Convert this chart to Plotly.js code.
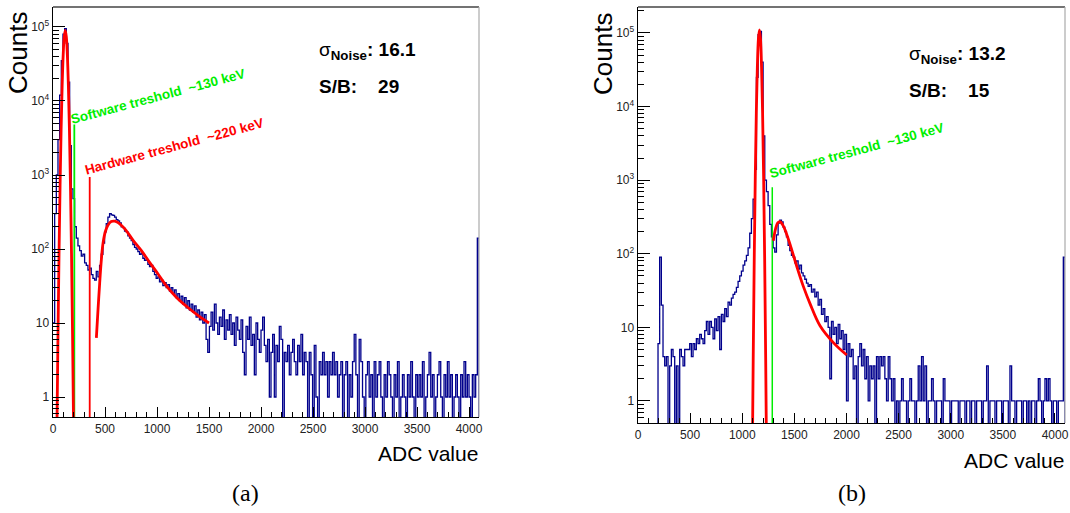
<!DOCTYPE html>
<html><head><meta charset="utf-8">
<script src="https://cdn.plot.ly/plotly-3.0.1.min.js"></script>
<style>html,body{margin:0;padding:0;background:#fff}#chart{width:1070px;height:513px}</style>
</head><body><div id="chart"></div>
<script>
// ---------------- DATA ----------------
const BIN_WIDTH = 16; // ADC channels per bin, 256 bins from 0 to 4096

// (a) histogram counts per bin
const countsA = [
  10, 300, 1000, 3000, 12000, 35000, 80000, 95000, 60000, 18000,
  2500, 650, 480, 200, 140, 110, 95, 80, 85, 65,
  60, 52, 55, 45, 40, 38, 50, 42, 60, 85,
  120, 170, 220, 270, 300, 290, 285, 270, 250, 240,
  225, 200, 195, 175, 170, 150, 140, 130, 115, 105,
  100, 92, 85, 88, 75, 70, 72, 62, 58, 60,
  50, 45, 40, 42, 36, 38, 32, 35, 30, 33,
  27, 30, 25, 28, 22, 25, 20, 23, 18, 22,
  16, 20, 15, 18, 14, 17, 12, 15, 11, 14,
  10, 13, 6, 4, 9, 14, 8, 18, 10, 7,
  12, 9, 15, 6, 11, 8, 13, 7, 10, 5,
  12, 8, 6, 11, 4, 2, 9, 6, 12, 5,
  7, 2, 10, 6, 4, 8, 12, 5, 3, 6,
  1, 4, 7, 1, 5, 3, 9, 6, 0, 4,
  3, 5, 2, 4, 6, 3, 2, 5, 3, 7,
  2, 4, 3, 0, 4, 2, 0, 5, 1, 0,
  3, 2, 4, 2, 3, 1, 3, 2, 4, 2,
  3, 1, 2, 3, 0, 2, 3, 0, 2, 1,
  3, 7, 2, 0, 6, 3, 1, 0, 2, 3,
  1, 2, 0, 3, 1, 2, 3, 1, 0, 2,
  1, 3, 2, 1, 0, 2, 1, 3, 0, 1,
  2, 1, 0, 2, 1, 3, 1, 0, 2, 1,
  2, 1, 3, 0, 1, 2, 4, 1, 2, 0,
  1, 2, 3, 1, 0, 2, 1, 3, 1, 2,
  0, 1, 2, 1, 0, 2, 1, 3, 1, 2,
  1, 0, 2, 1, 2, 140
];

// (b) histogram counts per bin
const countsB = [
  0, 0, 0, 0, 0, 0, 0, 0, 0, 0,
  0, 0, 6, 90, 20, 4, 3, 4, 0, 3,
  5, 4, 0, 3, 0, 5, 4, 3, 5, 5,
  5, 6, 4, 6, 5, 7, 6, 8, 7, 6,
  9, 12, 8, 12, 10, 7, 13, 9, 14, 5,
  15, 12, 18, 14, 22, 20, 25, 28, 30, 35,
  42, 50, 58, 70, 80, 95, 120, 190, 300, 550,
  1400, 25000, 95000, 105000, 40000, 4000, 1000, 700, 450, 250,
  170, 120, 105, 180, 260, 285, 270, 230, 200, 170,
  130, 110, 95, 90, 75, 80, 62, 70, 55, 50,
  45, 40, 36, 38, 30, 33, 26, 30, 20, 24,
  15, 18, 12, 14, 10, 2, 12, 8, 10, 6,
  11, 7, 9, 5, 8, 1, 6, 4, 5, 2,
  3, 0, 4, 6, 3, 5, 2, 4, 1, 3,
  2, 3, 0, 4, 2, 4, 3, 4, 2, 1,
  4, 2, 1, 2, 0, 1, 0, 1, 2, 1,
  1, 0, 1, 2, 1, 1, 0, 1, 3, 1,
  4, 1, 3, 0, 1, 1, 2, 1, 0, 1,
  1, 1, 0, 2, 1, 1, 1, 0, 1, 1,
  1, 1, 0, 1, 1, 1, 0, 1, 1, 0,
  1, 1, 0, 1, 1, 1, 0, 1, 1, 3,
  0, 1, 1, 1, 0, 1, 1, 1, 0, 1,
  1, 1, 0, 3, 1, 1, 0, 1, 1, 1,
  0, 1, 1, 0, 1, 0, 1, 1, 0, 1,
  2, 1, 0, 1, 2, 1, 2, 1, 0, 1,
  1, 0, 1, 1, 1, 90
];

// fitted curves
const fitNoiseAX = [38, 48, 58, 68, 78, 88, 98, 108, 118, 128, 138, 148, 158, 168, 178, 188, 198];
const fitNoiseAY = [0.4, 7, 87, 720, 4100, 16000, 42000, 74000, 90000, 74000, 42000, 16000, 4100, 720, 87, 7, 0.4];
const fitSignalAX = [417, 430, 449, 465, 481, 505, 528, 560, 593, 630, 700, 772, 850, 932, 1010, 1096, 1190, 1288, 1400, 1500];
const fitSignalAY = [6.3, 13, 35, 72, 120, 175, 210, 235, 238, 225, 180, 130, 95, 65, 46, 31, 22, 16.6, 12.5, 10];

const fitNoiseBX = [1095, 1105, 1115, 1125, 1135, 1145, 1155, 1165, 1175, 1185, 1195, 1205, 1215, 1225, 1235];
const fitNoiseBY = [0.09, 3.6, 85, 1110, 8300, 35000, 83000, 110000, 83000, 35000, 8300, 1110, 85, 3.6, 0.09];
const fitSignalBX = [1298, 1320, 1340, 1362, 1390, 1420, 1458, 1522, 1586, 1650, 1746, 1874, 2002];
const fitSignalBY = [150, 220, 262, 273, 245, 195, 135, 68, 36, 21, 10.5, 6.2, 4.2];

// threshold markers
const swThresholdAX = 205, swThresholdATop = 4800;
const hwThresholdAX = 353, hwThresholdATop = 940;
const swThresholdBX = 1288, swThresholdBTop = 800;

// statistics boxes
const sigmaNoise = ['16.1', '13.2'];
const signalToBackground = ['29', '15'];

// tick labels
const xTickVals = [0, 500, 1000, 1500, 2000, 2500, 3000, 3500, 4000];
const xTickText = ['0', '500', '1000', '1500', '2000', '2500', '3000', '3500', '4000'];
const yTickVals = [1, 10, 100, 1000, 10000, 100000];
const yTickText = ['1', '10', '10<sup>2</sup>', '10<sup>3</sup>', '10<sup>4</sup>', '10<sup>5</sup>'];

// ---------------- DRAWING ----------------
const W = 1070, H = 513;
const px = v => v / W;
const py = v => 1 - v / H;
const FLOOR = 0.01; // empty bins are drawn down below the axis like ROOT

function stepTrace(counts, xa, ya) {
  const xs = [], ys = [];
  counts.forEach((c, i) => { xs.push(i * BIN_WIDTH); ys.push(c > 0 ? c : FLOOR); });
  xs.push(counts.length * BIN_WIDTH); ys.push(FLOOR);
  return {x: xs, y: ys, xaxis: xa, yaxis: ya, mode: 'lines', type: 'scatter',
    line: {shape: 'hv', color: '#00008c', width: 1.3}, hoverinfo: 'skip'};
}
function fitTrace(x, y, xa, ya) {
  return {x: x, y: y, xaxis: xa, yaxis: ya, mode: 'lines', type: 'scatter',
    line: {shape: 'spline', smoothing: 1, color: '#ff0000', width: 2.8}, hoverinfo: 'skip'};
}
function vline(x, top, color, xa, ya, w) {
  return {x: [x, x], y: [FLOOR, top], xaxis: xa, yaxis: ya, mode: 'lines', type: 'scatter',
    line: {color: color, width: w}, hoverinfo: 'skip'};
}

const GREEN = '#00ee00';
const traces = [
  stepTrace(countsA, 'x', 'y'),
  vline(swThresholdAX, swThresholdATop, GREEN, 'x', 'y', 1.8),
  vline(hwThresholdAX, hwThresholdATop, '#ff0000', 'x', 'y', 1.8),
  fitTrace(fitNoiseAX, fitNoiseAY, 'x', 'y'),
  fitTrace(fitSignalAX, fitSignalAY, 'x', 'y'),
  stepTrace(countsB, 'x2', 'y2'),
  vline(swThresholdBX, swThresholdBTop, GREEN, 'x2', 'y2', 1.5),
  fitTrace(fitNoiseBX, fitNoiseBY, 'x2', 'y2'),
  fitTrace(fitSignalBX, fitSignalBY, 'x2', 'y2')
];

const SANS = '"Liberation Sans", Arial, sans-serif';
const SERIF = '"Liberation Serif", "DejaVu Serif", serif';

const yMinor = [];
for (let d = -1; d <= 5; d++) for (let m = 2; m <= 9; m++) yMinor.push(m * Math.pow(10, d));

function xAxis(domain, anchor) {
  return {domain: domain, anchor: anchor, range: [0, 4096], showgrid: false, zeroline: false,
    showline: true, linecolor: '#000', linewidth: 1.4,
    ticks: 'inside', ticklen: 10, tickcolor: '#000', tickwidth: 1,
    tickmode: 'array', tickvals: xTickVals, ticktext: xTickText,
    tickfont: {family: SANS, size: 12, color: '#222'},
    minor: {ticks: 'inside', ticklen: 5, dtick: 100, tick0: 0, tickcolor: '#000', tickwidth: 1, showgrid: false}};
}
function yAxis(domain, anchor, range) {
  return {domain: domain, anchor: anchor, type: 'log', range: range, showgrid: false, zeroline: false,
    showline: true, linecolor: '#000', linewidth: 1.4,
    ticks: 'inside', ticklen: 12, tickcolor: '#000', tickwidth: 1,
    tickmode: 'array', tickvals: yTickVals, ticktext: yTickText,
    tickfont: {family: SANS, size: 12, color: '#222'},
    minor: {ticks: 'inside', ticklen: 6, tickmode: 'array', tickvals: yMinor, tickcolor: '#000', tickwidth: 1, showgrid: false}};
}

function frame(xr, yr) {
  return [
    {type: 'line', xref: xr + ' domain', yref: yr + ' domain', x0: 0, x1: 1, y0: 1, y1: 1, line: {color: '#444', width: 1.5}},
    {type: 'line', xref: xr + ' domain', yref: yr + ' domain', x0: 1, x1: 1, y0: 0, y1: 1, line: {color: '#aaa', width: 1.2}}
  ];
}

function ann(text, x, y, opts) {
  return Object.assign({text: text, x: px(x), y: py(y), xref: 'paper', yref: 'paper', showarrow: false,
    xanchor: 'center', yanchor: 'middle'}, opts);
}
const NB = '\u00a0';
const annotations = [
  ann('Counts', 18, 53, {textangle: -90, font: {family: SANS, size: 26, color: '#000'}}),
  ann('Counts', 603, 54, {textangle: -90, font: {family: SANS, size: 26, color: '#000'}}),
  ann('ADC value', 480, 453, {xanchor: 'right', font: {family: SANS, size: 21, color: '#000'}}),
  ann('ADC value', 1066, 460, {xanchor: 'right', font: {family: SANS, size: 21, color: '#000'}}),
  ann('(a)', 245, 493, {font: {family: SERIF, size: 24, color: '#000'}}),
  ann('(b)', 852, 493, {font: {family: SERIF, size: 24, color: '#000'}}),
  ann('σ<sub><b>Noise</b></sub><b>: ' + sigmaNoise[0] + '</b>', 317, 51, {xanchor: 'left', font: {family: SANS, size: 19, color: '#000'}}),
  ann('<b>S/B:' + NB + NB + NB + NB + signalToBackground[0] + '</b>', 317, 87, {xanchor: 'left', font: {family: SANS, size: 19, color: '#000'}}),
  ann('σ<sub><b>Noise</b></sub><b>: ' + sigmaNoise[1] + '</b>', 907, 55, {xanchor: 'left', font: {family: SANS, size: 19, color: '#000'}}),
  ann('<b>S/B:' + NB + NB + NB + NB + signalToBackground[1] + '</b>', 907, 90, {xanchor: 'left', font: {family: SANS, size: 19, color: '#000'}}),
  ann('<b>Software treshold' + NB + NB + '~130 keV</b>', 158, 96, {textangle: -15, font: {family: SANS, size: 13.5, color: GREEN}}),
  ann('<b>Hardware treshold' + NB + NB + '~220 keV</b>', 174, 146, {textangle: -15, font: {family: SANS, size: 13.5, color: '#ff0000'}}),
  ann('<b>Software treshold' + NB + NB + '~130 keV</b>', 857, 151, {textangle: -15, font: {family: SANS, size: 13.5, color: GREEN}})
];

const layout = {
  width: W, height: H, margin: {l: 0, r: 0, t: 0, b: 0},
  paper_bgcolor: '#fff', plot_bgcolor: '#fff', showlegend: false,
  xaxis: xAxis([px(53), px(479)], 'y'),
  yaxis: yAxis([py(417), py(7)], 'x', [-0.27, 5.27]),
  xaxis2: xAxis([px(638), px(1065)], 'y2'),
  yaxis2: yAxis([py(423), py(7)], 'x2', [-0.30, 5.353]),
  shapes: frame('x', 'y').concat(frame('x2', 'y2')),
  annotations: annotations
};

Plotly.newPlot('chart', traces, layout, {staticPlot: true, displayModeBar: false});
</script>
</body></html>
